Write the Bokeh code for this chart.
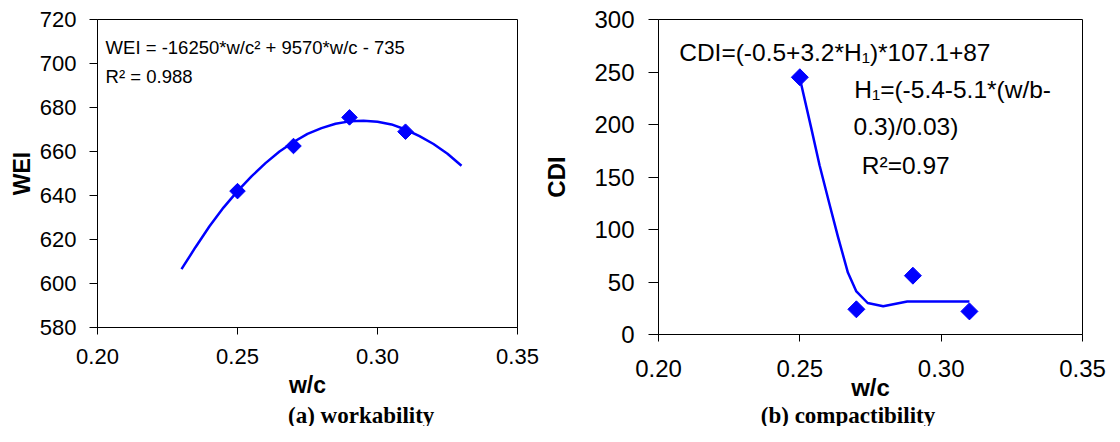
from bokeh.plotting import figure
from bokeh.layouts import row, column
from bokeh.models import Range1d, FixedTicker, NumeralTickFormatter, Label
from bokeh.embed import file_html
from bokeh.resources import INLINE
import numpy as np

# ---------------- data ----------------
wc_points = [0.25, 0.27, 0.29, 0.31]
wei_points = [642, 662.5, 675.5, 669]
wei_fit_x = [0.230, 0.235, 0.240, 0.245, 0.250, 0.255, 0.260, 0.265, 0.270, 0.275,
             0.280, 0.285, 0.290, 0.295, 0.300, 0.305, 0.310, 0.315, 0.320, 0.325, 0.330]
wei_fit_y = [606.5, 616.5, 626, 634.5, 642, 648.7, 654.7, 660, 664.3, 668,
             670.6, 672.6, 673.7, 674, 673.5, 672.3, 670, 667, 663.4, 659, 653.5]

cdi_points = [245, 24, 56, 22]
cdi_fit_x = [0.250, 0.254, 0.257, 0.2605, 0.2635, 0.267, 0.270, 0.274, 0.2795, 0.288, 0.310]
cdi_fit_y = [244, 197, 161, 124, 93, 59, 41, 30, 27, 31.5, 31.5]

x_ticks = [0.20, 0.25, 0.30, 0.35]
wei_ticks = [580, 600, 620, 640, 660, 680, 700, 720]
cdi_ticks = [0, 50, 100, 150, 200, 250, 300]

captions = ["(a) workability", "(b) compactibility"]

BLUE = "#0000FF"
SANS = "Liberation Sans"
SERIF = "Liberation Serif"


def style(p, tick_font, label_font, tick_out_y, ystand, ylab_stand, xstand, xlab_stand):
    p.xgrid.visible = False
    p.ygrid.visible = False
    p.outline_line_color = "black"
    p.outline_line_width = 1
    p.background_fill_color = "white"
    p.border_fill_color = "white"
    for ax in (p.xaxis[0], p.yaxis[0]):
        ax.axis_line_color = "black"
        ax.axis_line_width = 1
        ax.major_tick_line_color = "black"
        ax.major_tick_in = 0
        ax.minor_tick_line_color = None
        ax.major_label_text_font = SANS
        ax.major_label_text_font_size = f"{tick_font}px"
        ax.major_label_text_color = "black"
        ax.axis_label_text_font = SANS
        ax.axis_label_text_font_style = "bold"
        ax.axis_label_text_font_size = f"{label_font}px"
        ax.axis_label_text_color = "black"
    p.yaxis[0].major_tick_out = tick_out_y
    p.yaxis[0].major_label_standoff = ystand
    p.yaxis[0].axis_label_standoff = ylab_stand
    p.xaxis[0].major_tick_out = 7
    p.xaxis[0].major_label_standoff = xstand
    p.xaxis[0].axis_label_standoff = xlab_stand
    p.xaxis[0].ticker = FixedTicker(ticks=x_ticks)
    p.xaxis[0].formatter = NumeralTickFormatter(format="0.00")


# ---------------- (a) workability ----------------
p1 = figure(frame_width=420, frame_height=308, output_backend="svg", toolbar_location=None,
            x_range=Range1d(0.20, 0.35), y_range=Range1d(580, 720),
            min_border_left=97, min_border_right=23, min_border_top=19, min_border_bottom=76)
style(p1, 22, 23, 8, 13, 2, 14, 5)
p1.yaxis[0].ticker = FixedTicker(ticks=wei_ticks)
p1.xaxis[0].axis_label = "w/c"
p1.yaxis[0].axis_label = "WEI"

p1.line(wei_fit_x, wei_fit_y, line_color=BLUE, line_width=2.5, line_join="round")
p1.scatter(wc_points, wei_points, marker="square", angle=np.pi / 4, size=11,
           fill_color=BLUE, line_color=BLUE)

p1.add_layout(Label(x=0.2029, y=707.1, text="WEI = -16250*w/c² + 9570*w/c - 735",
                    text_font=SANS, text_font_size="18.5px", text_color="black",
                    text_baseline="alphabetic", text_align="left"))
p1.add_layout(Label(x=0.2029, y=694.1, text="R² = 0.988",
                    text_font=SANS, text_font_size="18.5px", text_color="black",
                    text_baseline="alphabetic", text_align="left"))

# ---------------- (b) compactibility ----------------
p2 = figure(frame_width=424, frame_height=315, output_backend="svg", toolbar_location=None,
            x_range=Range1d(0.20, 0.35), y_range=Range1d(0, 300),
            min_border_left=116, min_border_right=24, min_border_top=16, min_border_bottom=72)
style(p2, 24, 24, 10, 14, 21, 18, -6)
p2.yaxis[0].ticker = FixedTicker(ticks=cdi_ticks)
p2.xaxis[0].axis_label = "w/c"
p2.yaxis[0].axis_label = "CDI"

p2.line(cdi_fit_x, cdi_fit_y, line_color=BLUE, line_width=2.5, line_join="round")
p2.scatter(wc_points, cdi_points, marker="square", angle=np.pi / 4, size=12,
           fill_color=BLUE, line_color=BLUE)

for (tx, ty, tt) in [(0.20732, 268.3, "CDI=(-0.5+3.2*H₁)*107.1+87"),
                     (0.26923, 233.3, "H₁=(-5.4-5.1*(w/b-"),
                     (0.26899, 198.4, "0.3)/0.03)"),
                     (0.27192, 161.2, "R²=0.97")]:
    p2.add_layout(Label(x=tx, y=ty, text=tt, text_font=SANS, text_font_size="24.5px",
                        text_color="black", text_baseline="alphabetic", text_align="left"))

# ---------------- caption strip ----------------
cap = figure(width=1104, height=23, output_backend="svg", toolbar_location=None,
             x_range=Range1d(0, 1104), y_range=Range1d(0, 23),
             min_border=0, min_border_left=0, min_border_right=0,
             min_border_top=0, min_border_bottom=0)
cap.xaxis.visible = False
cap.yaxis.visible = False
cap.xgrid.visible = False
cap.ygrid.visible = False
cap.outline_line_color = None
cap.background_fill_color = "white"
cap.border_fill_color = "white"
for cx, ct in zip([360.7, 847.5], captions):
    cap.add_layout(Label(x=cx, y=11.5, text=ct, text_font=SERIF, text_font_style="bold",
                         text_font_size="23px", text_color="black",
                         text_baseline="middle", text_align="center"))

layout = column(row(p1, p2), cap)
open("out.html", "w").write(file_html(layout, INLINE))
